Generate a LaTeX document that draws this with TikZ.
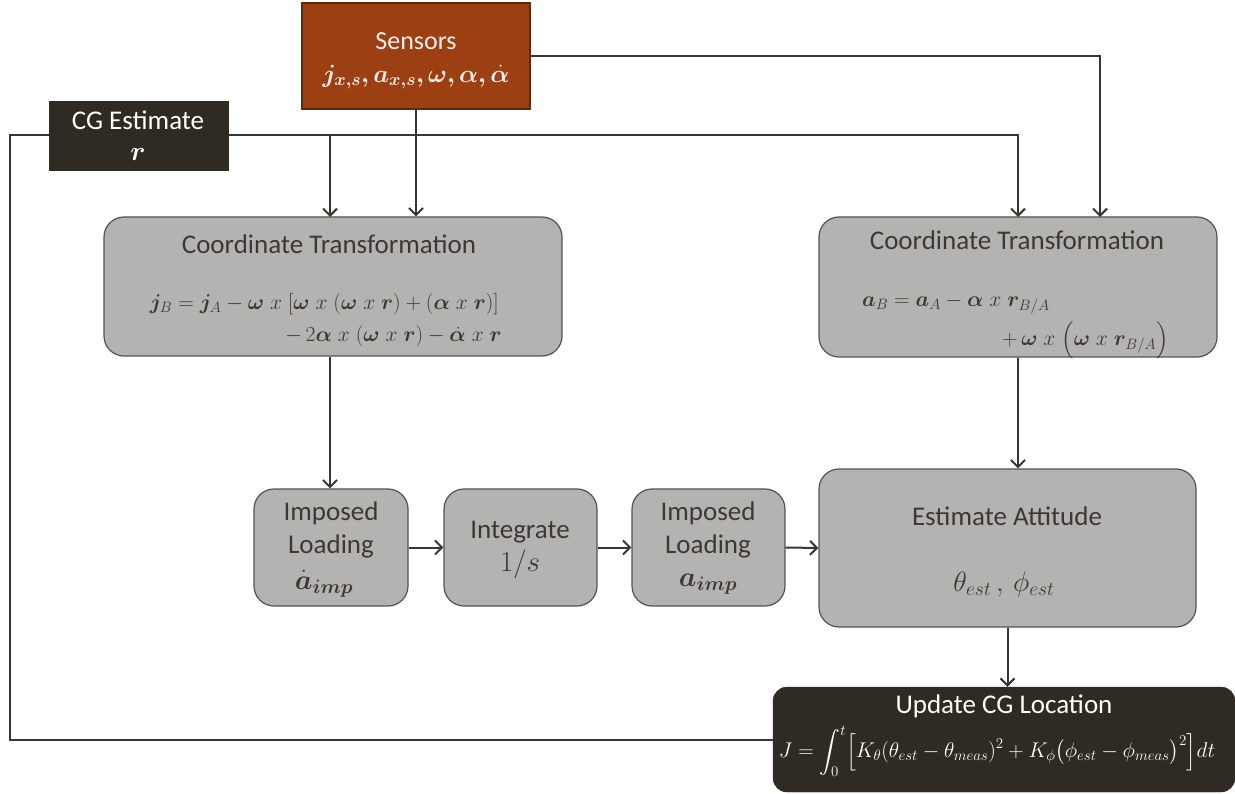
\documentclass[tikz,border=0pt]{standalone}
\usepackage{fix-cm}
\usepackage{amsmath,bm}
\usepackage{fontspec}
\setmainfont{Carlito}
\usetikzlibrary{arrows.meta}
\definecolor{brownbox}{HTML}{9C3F12}
\definecolor{brownedge}{HTML}{5E2A0E}
\definecolor{darkbox}{HTML}{302B22}
\definecolor{greybox}{HTML}{B5B3B1}
\definecolor{greyedge}{HTML}{55524E}
\definecolor{ink}{HTML}{3A3530}
\definecolor{txt}{HTML}{3C3833}
\tikzset{
  box/.style={draw=greyedge, fill=greybox, line width=1.2pt, rounded corners=20pt, inner sep=0pt},
  sbox/.style={draw=brownedge, fill=brownbox, line width=1.5pt, inner sep=0pt},
  dbox/.style={draw=darkbox, fill=darkbox, inner sep=0pt},
  conn/.style={draw=ink, line width=2pt},
  arr/.style={conn, -{Straight Barb[length=7pt,width=14pt,line width=2pt]}},
  ttl/.style={text=txt, font=\fontsize{27}{30}\selectfont, inner sep=0pt},
  mth/.style={text=txt, font=\fontsize{21.5}{25}\selectfont, inner sep=0pt},
  wtxt/.style={text=white, font=\fontsize{27}{30}\selectfont, inner sep=0pt},
}
\begin{document}
\begin{tikzpicture}[x=1pt,y=-1pt]
\useasboundingbox (0,0) rectangle (1235,794);
% boxes
\node[sbox, minimum width=228pt, minimum height=106pt] (sens) at (416,56) {};
\node[dbox, minimum width=179pt, minimum height=69pt] (cg) at (138.5,135.5) {};
\node[box, minimum width=458pt, minimum height=139pt] (ctL) at (333,286.5) {};
\node[box, minimum width=398pt, minimum height=140pt] (ctR) at (1018,287) {};
\node[box, minimum width=154pt, minimum height=117pt] (il1) at (331,547.5) {};
\node[box, minimum width=153pt, minimum height=117pt] (int) at (520.5,547.5) {};
\node[box, minimum width=153pt, minimum height=117pt] (il2) at (708.5,547.5) {};
\node[box, minimum width=377pt, minimum height=158pt] (ea) at (1007.5,548) {};
\node[dbox, rounded corners=14pt, minimum width=462pt, minimum height=105pt] (upd) at (1004,739.5) {};
% texts
\node[wtxt, text=white!92!brownbox, font=\fontsize{26}{30}\selectfont] (sensT) at (416,41) {Sensors};
\node[wtxt, text=white!92!brownbox, font=\fontsize{25}{28}\selectfont] (sensM) at (416,77) {$\bm{j_{x,s}, a_{x,s}, \omega, \alpha, \dot\alpha}$};
\node[wtxt] (cgT) at (138,120) {CG Estimate};
\node[wtxt] (cgM) at (138,155) {$\bm{r}$};
\node[ttl] (ctLT) at (329,244) {Coordinate Transformation};
\node[mth, anchor=east] (ctLE1) at (499,304) {$\bm{j}_B=\bm{j}_A-\bm{\omega}\;x\;[\bm{\omega}\;x\;(\bm{\omega}\;x\;\bm{r})+(\bm{\alpha}\;x\;\bm{r})]$};
\node[mth, anchor=east] (ctLE2) at (502,336) {$-\,2\bm{\alpha}\;x\;(\bm{\omega}\;x\;\bm{r})-\dot{\bm{\alpha}}\;x\;\bm{r}$};
\node[ttl] (ctRT) at (1017,240) {Coordinate Transformation};
\node[mth, anchor=west] (ctRE1) at (862,304) {$\bm{a}_B=\bm{a}_A-\bm{\alpha}\;x\;\bm{r}_{B/A}$};
\node[mth, anchor=west] (ctRE2) at (1002,340) {$+\,\bm{\omega}\;x\;\Bigl(\bm{\omega}\;x\;\bm{r}_{B/A}\Bigr)$};
\node[ttl] (il1a) at (331,513) {Imposed};
\node[ttl] (il1b) at (331,546) {Loading};
\node[mth, font=\fontsize{28}{32}\selectfont] (il1c) at (324,584) {$\dot{\bm{a}}_{\bm{imp}}$};
\node[ttl] (inta) at (520,532) {Integrate};
\node[mth, font=\fontsize{29}{32}\selectfont] (intb) at (520,564) {$1/s$};
\node[ttl] (il2a) at (708,513) {Imposed};
\node[ttl] (il2b) at (708,546) {Loading};
\node[mth, font=\fontsize{28}{32}\selectfont] (il2c) at (708,584) {$\bm{a}_{\bm{imp}}$};
\node[ttl] (eaT) at (1007,516) {Estimate Attitude};
\node[mth, font=\fontsize{28}{32}\selectfont] (eaM) at (1004,584) {$\theta_{est}\,,\,\phi_{est}$};
\node[wtxt] (updT) at (1004,706) {Update CG Location};
\node[wtxt, font=\fontsize{21.3}{24}\selectfont] (updM) at (997,751) {$J=\displaystyle\int_0^t\Bigl[K_\theta(\theta_{est}-\theta_{meas})^2+K_\phi\bigl(\phi_{est}-\phi_{meas}\bigr)^2\Bigr]dt$};
% anchor coordinates
\coordinate (inL1) at (330,217);
\coordinate (inR1) at (1018,217);
\coordinate (inR2) at (1100,217);
\coordinate (fb) at (10,135.5);
% connectors
\draw[arr] (cg.east) -| (inR1);
\draw[arr] (cg.east -| inL1) -- (inL1);
\draw[arr] (sens.south) -- (sens.south |- ctL.north);
\draw[arr] (sens.east) -| (inR2);
\draw[arr] (ctL.south -| inL1) -- (il1.north -| inL1);
\draw[arr] (il1.east) -- (int.west);
\draw[arr] (int.east) -- (il2.west);
\draw[arr] (il2.east) -- (ea.west);
\draw[arr] (ctR.south) -- (ea.north -| ctR.south);
\draw[arr] (ea.south) -- (ea.south |- upd.north);
\draw[conn] (upd.west) -| (fb) -- (cg.west);
\end{tikzpicture}
\end{document}
